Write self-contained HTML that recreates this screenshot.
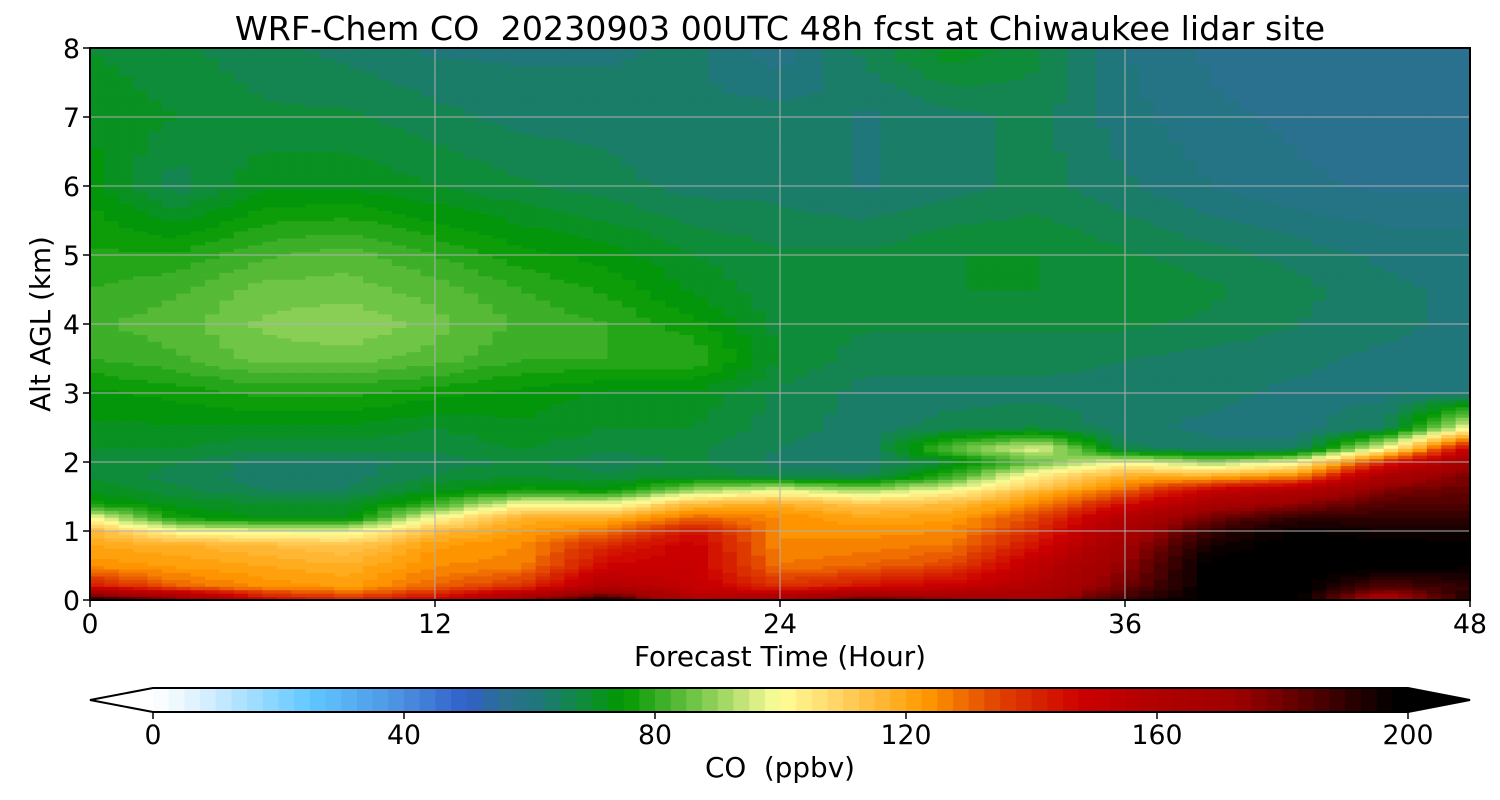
<!DOCTYPE html>
<html><head><meta charset="utf-8"><style>
html,body{margin:0;padding:0;background:#fff;}
svg{display:block;font-family:"DejaVu Sans","Liberation Sans",sans-serif;}
</style></head><body>
<svg id="fig" width="1500" height="800" viewBox="0 0 1500 800">
<text x="780" y="40" text-anchor="middle" font-size="33.3">WRF-Chem CO&#160; 20230903 00UTC 48h fcst at Chiwaukee lidar site</text>
<g id="heat"></g>
<g id="grid"></g>
<rect x="90" y="48" width="1380" height="552" fill="none" stroke="#000" stroke-width="2"/>
<g id="xt"></g>
<g id="yt"></g>
<text x="780" y="666" text-anchor="middle" font-size="27.8">Forecast Time (Hour)</text>
<text transform="translate(50,324) rotate(-90)" text-anchor="middle" font-size="27.8">Alt AGL (km)</text>
<g id="cbar"></g>
<text x="780" y="777" text-anchor="middle" font-size="27.8">CO&#160; (ppbv)</text>
</svg>
<script>
const times=[0,3,6,9,12,15,18,21,24,27,30,33,36,39,42,45,48];
const alts=[0,0.2,0.5,0.8,1.0,1.2,1.4,1.6,1.8,2.0,2.2,2.5,3,3.5,4,4.5,5,6,7,8];
const coValues=[
[195,180,150,140,150,175,195,160,170,185,175,170,190,200,200,160,195],
[145,130,124,122,130,138,160,152,138,145,150,160,180,200,200,185,190],
[124,122,120,118,125,126,148,150,128,130,135,155,175,200,200,200,198],
[120,118,115,112,122,125,140,150,125,126,128,145,170,195,200,200,198],
[116,100,98,98,115,122,128,145,125,124,125,140,165,190,198,195,195],
[100,76,72,72,100,118,118,130,125,120,122,135,160,180,190,190,190],
[76,72,70,70,80,100,98,115,118,112,115,125,145,165,175,185,185],
[72,68,65,65,72,76,74,90,98,90,100,115,130,150,160,178,182],
[70,66,64,64,68,70,68,70,66,66,80,105,118,118,125,165,178],
[70,68,64,64,66,68,66,68,64,63,70,85,100,90,100,140,170],
[70,70,68,68,68,70,68,68,65,63,85,98,66,63,63,100,150],
[72,72,72,72,70,72,70,70,66,64,66,68,63,62,62,64,100],
[74,76,78,78,76,74,72,72,67,64,64,64,64,63,62,62,62],
[80,82,86,86,84,80,80,80,70,66,66,66,65,64,63,62,62],
[82,84,88,90,86,82,80,76,69,68,68,68,68,67,65,63,62],
[80,82,86,86,84,80,77,72,68,70,70,70,70,68,66,63,62],
[78,78,82,84,80,76,74,70,68,68,70,70,68,66,64,62,62],
[74,66,72,72,70,68,66,64,64,62,64,66,63,60,58,57,57],
[72,70,68,68,66,64,64,63,64,62,64,66,61,58,57,56,56],
[70,68,66,64,62,62,62,63,58,66,72,68,60,57,56,56,56]];
const xTicks=[0,12,24,36,48];
const yTicks=[0,1,2,3,4,5,6,7,8];
const cbTicks=[0,40,80,120,160,200];
const NS='http://www.w3.org/2000/svg';
const X=t=>90+t/48*1380, Y=z=>600-z/8*552, CB=v=>153+v/200*1255;
const anc=[[0,'#ffffff'],[8,'#d8f0ff'],[25,'#60c8ff'],[40,'#4a8ee0'],[50,'#3060c8'],[56,'#2a7090'],[62,'#1e7878'],[68,'#108a40'],[75,'#009900'],[80,'#30aa20'],[88,'#80cc50'],[95,'#d0e880'],[100,'#ffff99'],[110,'#ffd060'],[123,'#ff9a00'],[135,'#e04000'],[148,'#cc0000'],[160,'#b00000'],[172,'#a00000'],[180,'#700000'],[190,'#300000'],[198,'#000000']];
function hx(h){return [1,3,5].map(i=>parseInt(h.substr(i,2),16));}
function cmap(v){v=Math.floor(v/2.5)*2.5+1.25;if(v<=0)return anc[0][1];if(v>=198)return '#000';
 for(let i=0;i<anc.length-1;i++){if(v>=anc[i][0]&&v<=anc[i+1][0]){const a=hx(anc[i][1]),b=hx(anc[i+1][1]),f=(v-anc[i][0])/(anc[i+1][0]-anc[i][0]);return 'rgb('+a.map((c,k)=>Math.round(c+(b[k]-c)*f)).join(',')+')';}}return '#000';}
function el(tag,at,parent){const e=document.createElementNS(NS,tag);for(const k in at)e.setAttribute(k,at[k]);parent.appendChild(e);return e;}
function idx(arr,v){for(let i=0;i<arr.length-1;i++)if(v<=arr[i+1])return i;return arr.length-2;}
function val(t,z){const i=idx(times,t),j=idx(alts,z);const ft=(t-times[i])/(times[i+1]-times[i]),fz=(z-alts[j])/(alts[j+1]-alts[j]);
 const a=coValues[j][i],b=coValues[j][i+1],c=coValues[j+1][i],d=coValues[j+1][i+1];
 return (a*(1-ft)+b*ft)*(1-fz)+(c*(1-ft)+d*ft)*fz;}
const heat=document.getElementById('heat');
const dt=0.5,dz=0.05;
for(let t=0;t<48;t+=dt){for(let z=0;z<8-1e-9;z+=dz){
 const r=el('rect',{x:X(t).toFixed(2),y:Y(z+dz).toFixed(2),width:(X(t+dt)-X(t)+0.6).toFixed(2),height:(Y(z)-Y(z+dz)+0.6).toFixed(2),fill:cmap(val(t+dt/2,z+dz/2))},heat);
 
 
}}
const grid=document.getElementById('grid'),xt=document.getElementById('xt'),yt=document.getElementById('yt');
xTicks.forEach(t=>{
 const l=el('line',{x1:X(t),x2:X(t),y1:48,y2:600,stroke:'#b0b0b0','stroke-width':1},grid);
 
 el('line',{x1:X(t),x2:X(t),y1:600,y2:607,stroke:'#000','stroke-width':1.5},xt);
 const tx=el('text',{x:X(t),y:633,'text-anchor':'middle','font-size':26.7},xt);tx.textContent=t;
 
});
yTicks.forEach(z=>{
 const l=el('line',{x1:90,x2:1470,y1:Y(z),y2:Y(z),stroke:'#b0b0b0','stroke-width':1},grid);
 
 el('line',{x1:83,x2:90,y1:Y(z),y2:Y(z),stroke:'#000','stroke-width':1.5},yt);
 const tx=el('text',{x:80,y:Y(z)+10,'text-anchor':'end','font-size':26.7},yt);tx.textContent=z;
 
});
const cb=document.getElementById('cbar');
for(let v=0;v<200;v+=2.5){
 const r=el('rect',{x:CB(v),y:688,width:CB(2.5)-CB(0)+0.5,height:24,fill:cmap(v)},cb);
 
}
el('polygon',{points:'153,688 90,700 153,712',fill:'#fff',stroke:'none'},cb);
el('polygon',{points:'1408,688 1470,700 1408,712',fill:'#000',stroke:'none'},cb);
const o=el('polygon',{points:'153,688 1408,688 1470,700 1408,712 153,712 90,700',fill:'none',stroke:'#000','stroke-width':2},cb);

cbTicks.forEach(v=>{
 el('line',{x1:CB(v),x2:CB(v),y1:712,y2:719,stroke:'#000','stroke-width':1.5},cb);
 const tx=el('text',{x:CB(v),y:744,'text-anchor':'middle','font-size':26.7},cb);tx.textContent=v;
 
});
</script>
</body></html>
